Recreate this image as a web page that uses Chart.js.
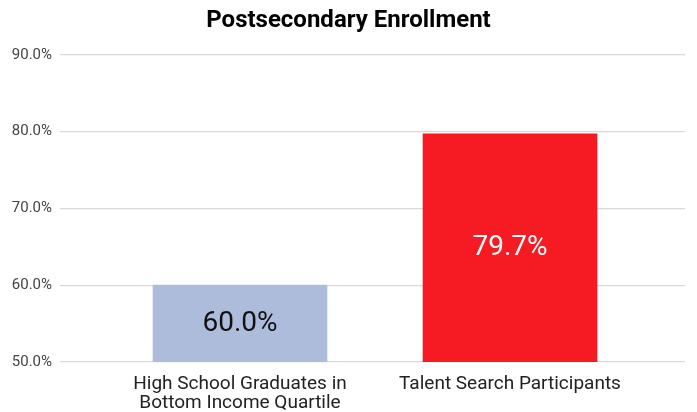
<!DOCTYPE html>
<html>
<head>
<meta charset="utf-8">
<script src="https://cdn.jsdelivr.net/npm/chart.js@4/dist/chart.umd.min.js"></script>
<style>
  html, body { margin: 0; padding: 0; background: #fff; }
  #wrap { width: 697px; height: 412px; }
</style>
</head>
<body>
<div id="wrap"><canvas id="myChart"></canvas></div>
<script>
const categories = [['High School Graduates in', 'Bottom Income Quartile'], 'Talent Search Participants'];
const values = [60.0, 79.7];
const barColors = ['#aebcdc', '#f61b22'];
const labelColors = ['#111111', '#ffffff'];
const yTicks = [50, 60, 70, 80, 90];

Chart.defaults.font.family = 'Roboto, sans-serif';

/* etiquetas dentro de las barras, centradas en la parte visible */
const barLabels = {
  id: 'barLabels',
  afterDatasetsDraw(chart) {
    const c = chart.ctx;
    const meta = chart.getDatasetMeta(0);
    const bottom = chart.scales.y.getPixelForValue(chart.scales.y.min);
    c.save();
    c.font = '28px Roboto, sans-serif';
    c.textAlign = 'center';
    c.textBaseline = 'middle';
    meta.data.forEach((bar, i) => {
      c.fillStyle = labelColors[i];
      c.fillText(values[i].toFixed(1) + '%', bar.x, (bar.y + bottom) / 2);
    });
    c.restore();
  }
};

const el = document.getElementById('myChart');
const config = {
  type: 'bar',
  data: {
    labels: categories,
    datasets: [{
      data: values,
      backgroundColor: barColors,
      barThickness: 174
    }]
  },
  options: {
    responsive: true,
    maintainAspectRatio: false,
    animation: false,
    layout: { padding: 0 },
    plugins: {
      legend: { display: false },
      tooltip: { enabled: false },
      title: {
        display: true,
        text: 'Postsecondary Enrollment',
        color: '#000',
        font: { size: 24, weight: 'bold' },
        padding: { top: 7, bottom: 19 }
      }
    },
    scales: {
      x: {
        grid: { display: false },
        border: { display: false },
        afterFit: (s) => { s.height = 50; },
        ticks: { color: '#222', font: { size: 19, lineHeight: 1.0 }, padding: 5, maxRotation: 0 }
      },
      y: {
        min: 50,
        max: 90,
        afterBuildTicks: (s) => { s.ticks = yTicks.map(v => ({ value: v })); },
        afterFit: (s) => { s.width = 105; },
        border: { display: false },
        grid: { color: '#d9d9d9', lineWidth: 1.3, tickLength: 45 },
        ticks: { color: '#444', font: { size: 15 }, padding: 8, callback: v => v.toFixed(1) + '%' }
      },
      y2: {
        position: 'right',
        min: 50,
        max: 90,
        afterBuildTicks: (s) => { s.ticks = yTicks.map(v => ({ value: v })); },
        afterFit: (s) => { s.width = 52; },
        border: { display: false },
        grid: { color: '#d9d9d9', lineWidth: 1.3, tickLength: 40, drawOnChartArea: false },
        ticks: { display: false }
      }
    }
  },
  plugins: [barLabels]
};
let chart = new Chart(el, config);
</script>
</body>
</html>
